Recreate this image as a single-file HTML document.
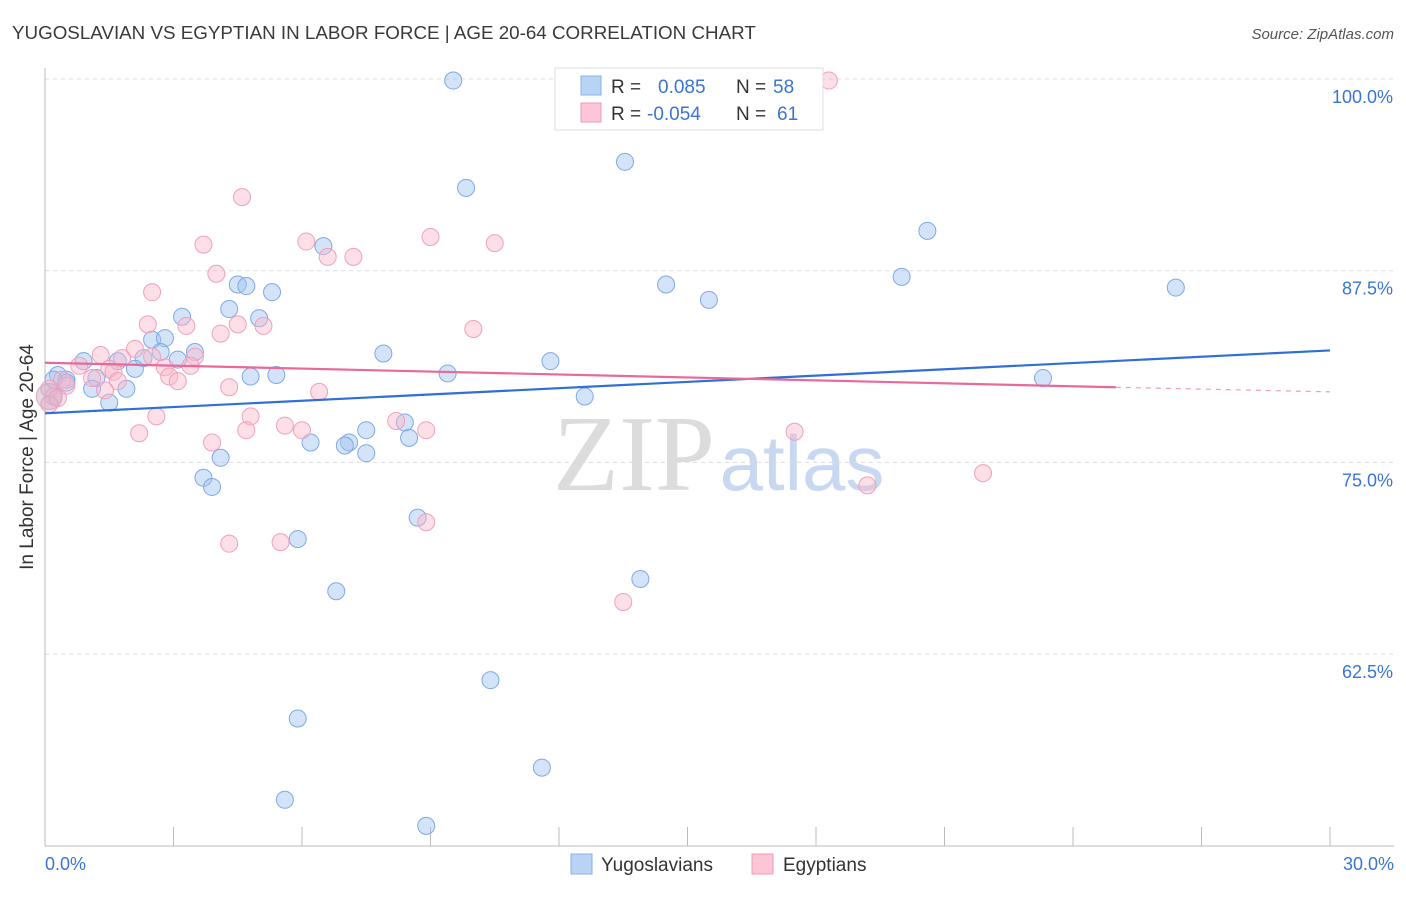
<!DOCTYPE html>
<html><head><meta charset="utf-8"><style>
body{margin:0;background:#fff;font-family:"Liberation Sans",sans-serif;}
</style></head><body>
<svg id="c" width="1406" height="892" xmlns="http://www.w3.org/2000/svg">
<text x="12" y="39" font-size="18.8" fill="#3a3a3a">YUGOSLAVIAN VS EGYPTIAN IN LABOR FORCE | AGE 20-64 CORRELATION CHART</text>
<text x="1394" y="39" font-size="15" fill="#555" font-style="italic" text-anchor="end">Source: ZipAtlas.com</text>
<text x="0" y="0" font-size="19" fill="#333" text-anchor="middle" transform="translate(33,457) rotate(-90)">In Labor Force | Age 20-64</text>
<g><text x="634" y="490" font-size="108" font-family="Liberation Serif,serif" fill="#dcdcdc" text-anchor="middle">ZIP</text><text x="802" y="490" font-size="78" fill="#c8d8f0" text-anchor="middle">atlas</text></g>
<g id="grid"></g><g id="pts"></g><g id="lines"></g>
<g>
<rect x="555" y="68" width="268" height="62" fill="#fff" stroke="#ddd"/>
<rect x="581" y="76" width="20" height="19" fill="#b9d3f5" stroke="#8ab0e8"/>
<rect x="581" y="103" width="20" height="19" fill="#fcc6d6" stroke="#f09ab5"/>
<text x="611" y="93" font-size="19" fill="#333">R = </text><text x="658" y="93" font-size="19" fill="#3a74d8">0.085</text>
<text x="736" y="93" font-size="19" fill="#333">N = </text><text x="773" y="93" font-size="19" fill="#3a74d8">58</text>
<text x="611" y="120" font-size="19" fill="#333">R = </text><text x="647" y="120" font-size="19" fill="#3a74d8">-0.054</text>
<text x="736" y="120" font-size="19" fill="#333">N = </text><text x="777" y="120" font-size="19" fill="#3a74d8">61</text>
</g>
<g>
<rect x="571" y="854" width="21" height="20" fill="#b9d3f5" stroke="#8ab0e8"/><text x="601" y="871" font-size="19" fill="#333">Yugoslavians</text>
<rect x="752" y="854" width="21" height="20" fill="#fcc6d6" stroke="#f09ab5"/><text x="783" y="871" font-size="19" fill="#333">Egyptians</text>
</g>
</svg>
<script>
const yTicks=[100,87.5,75,62.5];
const xTickLabels=["0.0%","30.0%"];
const yugX=[9.53,13.54,9.83,20.6,6.5,20.0,26.4,14.5,15.5,4.5,4.7,5.3,4.3,3.2,5.0,2.5,2.8,3.5,2.7,2.3,3.1,0.9,1.7,2.1,7.9,11.8,9.4,23.3,4.8,5.4,0.3,0.5,1.2,0.5,1.1,1.9,1.5,12.6,8.4,7.5,7.1,7.0,7.5,8.5,6.2,4.1,3.7,3.9,8.7,5.9,13.9,6.8,10.4,5.9,11.6,5.6,8.9,0.2];
const yugY=[99.9,94.6,92.9,90.1,89.1,87.1,86.4,86.6,85.6,86.6,86.5,86.1,85.0,84.5,84.4,83.0,83.1,82.2,82.2,81.8,81.7,81.6,81.6,81.1,82.1,81.6,80.8,80.5,80.6,80.7,80.7,80.4,80.5,80.2,79.8,79.8,78.9,79.3,77.6,77.1,76.3,76.1,75.6,76.6,76.3,75.3,74.0,73.4,71.4,70.0,67.4,66.6,60.8,58.3,55.1,53.0,51.3,80.4];
const egyX=[18.3,4.6,6.1,3.7,9.0,10.5,6.6,7.2,4.0,2.5,4.5,5.1,3.3,2.4,10.0,4.1,2.1,3.5,2.5,1.8,1.3,0.8,1.5,1.6,2.8,3.4,2.9,3.1,1.1,0.4,0.5,0.1,0.2,1.7,4.3,6.4,1.4,4.8,2.6,8.2,5.6,6.0,4.7,8.9,2.2,3.9,17.5,21.9,19.2,8.9,4.3,5.5,13.5,0.1,0.3];
const egyY=[99.9,92.3,89.4,89.2,89.7,89.3,88.4,88.4,87.3,86.1,84.0,83.9,83.9,84.0,83.7,83.4,82.4,81.9,81.9,81.8,82.0,81.3,81.1,80.9,81.2,81.3,80.6,80.3,80.5,80.4,80.0,79.8,79.3,80.3,79.9,79.6,79.7,78.0,78.0,77.7,77.4,77.1,77.1,77.1,76.9,76.3,77.0,74.3,73.5,71.1,69.7,69.8,65.9,78.8,79.2];
const X=v=>45+v/30*1285, Y=v=>79+(100-v)/12.5*191.7;
const NS="http://www.w3.org/2000/svg";
function mk(t,a,p){const e=document.createElementNS(NS,t);for(const k in a)e.setAttribute(k,a[k]);p.appendChild(e);return e;}
const g=document.getElementById('grid');
yTicks.forEach(v=>{
 const l=mk('line',{x1:45,x2:1394,y1:Y(v),y2:Y(v),stroke:'#ddd','stroke-dasharray':'4,4'},g);
 
 
 const t=mk('text',{x:1393,y:Y(v)+24,'font-size':18,fill:'#3a74d8','text-anchor':'end'},g);t.textContent=v.toFixed(1)+'%';
 
 
});
mk('line',{x1:45,x2:45,y1:68,y2:846,stroke:'#bbb'},g);
mk('line',{x1:45,x2:1394,y1:846,y2:846,stroke:'#bbb'},g);
for(let i=0;i<=10;i++){const x=X(i*3);mk('line',{x1:x,x2:x,y1:827,y2:846,stroke:'#bbb'},g);}
[[0,'start',45],[30,'end',1394]].forEach((d,i)=>{const t=mk('text',{x:d[2],y:870,'font-size':18,fill:'#3a74d8','text-anchor':d[1]},g);t.textContent=xTickLabels[i];
 
 });
const p=document.getElementById('pts');
yugX.forEach((v,i)=>{const c=mk('circle',{cx:X(v),cy:Y(yugY[i]),r:8.5,fill:'rgba(160,195,240,0.45)',stroke:'#7ea8e6','stroke-width':1},p);
 
 });
egyX.forEach((v,i)=>{const c=mk('circle',{cx:X(v),cy:Y(egyY[i]),r:8.5,fill:'rgba(250,185,205,0.45)',stroke:'#f0a0ba','stroke-width':1},p);
 
 });
const big=mk('circle',{cx:X(0.1),cy:Y(79.3),r:13,fill:'rgba(200,170,200,0.45)',stroke:'#d9a8c4'},p);


const L=document.getElementById('lines');
const bl=mk('line',{x1:X(0),y1:Y(78.2),x2:X(30),y2:Y(82.3),stroke:'#2f6fd6','stroke-width':2.2},L);


const pl=mk('line',{x1:X(0),y1:Y(81.5),x2:X(25),y2:Y(79.9),stroke:'#e8699a','stroke-width':2.2},L);


const pd=mk('line',{x1:X(25),y1:Y(79.9),x2:X(30),y2:Y(79.6),stroke:'#e8a0bb','stroke-width':1.2,'stroke-dasharray':'5,5'},L);


</script>
</body></html>
